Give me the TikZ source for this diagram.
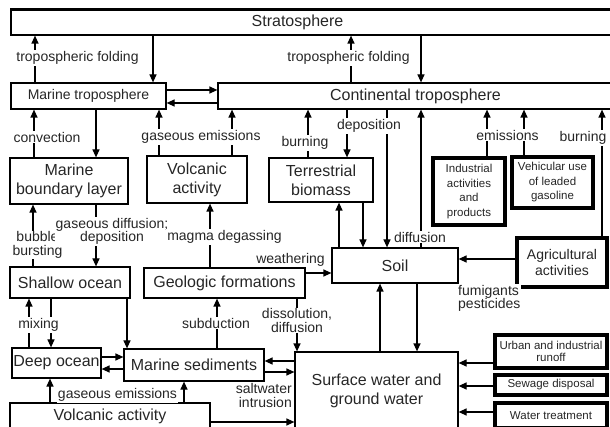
\documentclass[tikz,border=0pt]{standalone}
\usepackage{fontspec}
\setmainfont{Liberation Sans}
\usetikzlibrary{arrows.meta}

\newcommand{\boxfont}{\fontsize{16}{19}\selectfont}
\newcommand{\midfont}{\fontsize{14}{16}\selectfont}
\newcommand{\lblfont}{\fontsize{14}{13.5}\selectfont}
\newcommand{\srcfont}{\fontsize{11.5}{14.5}\selectfont}

\tikzset{
	box/.style={draw, line width=1.2pt, inner sep=0pt, align=center, font=\boxfont, text=black!85},
	srcbox/.style={box, line width=3.5pt, font=\srcfont},
	lbl/.style={fill=white, inner sep=1pt, align=center, font=\lblfont, text=black!85},
	arr/.style={-{Triangle[length=8pt,width=7pt]}, line width=1.2pt},
}

\begin{document}
\begin{tikzpicture}[x=1pt, y=-1pt]

			\useasboundingbox (0,0) rectangle (610,427);
			\clip (0,0) rectangle (610,427);

			% compartments
			\node[box, minimum width=629pt, minimum height=25pt] (strat) at (325.5,22.5) {};
			\node[font=\boxfont, text=black!85] (strattxt) at (297.5,22.5) {Stratosphere};
			\draw[line width=2.2pt] (strat.north west) -- (strat.north east);
			\node[box, font=\midfont, minimum width=155pt, minimum height=26pt] (mtrop) at (88.5,96) {Marine troposphere};
			\node[box, minimum width=422pt, minimum height=26pt] (ctrop) at (429,96) {};
			\node[font=\boxfont, text=black!85] (ctroptxt) at (415.5,96) {Continental troposphere};
			\node[box, minimum width=118pt, minimum height=46pt] (mbl) at (69,181) {Marine\\boundary layer};
			\node[box, minimum width=100pt, minimum height=47pt] (volcup) at (197,179.5) {Volcanic\\activity};
			\node[box, minimum width=104pt, minimum height=44pt] (biomass) at (321,180) {Terrestrial\\biomass};
			\node[box, minimum width=126pt, minimum height=35pt] (soil) at (395,265.5) {Soil};
			\node[box, minimum width=120pt, minimum height=31pt] (shallow) at (70,282.5) {Shallow ocean};
			\node[box, minimum width=161pt, minimum height=30pt] (geo) at (224.5,283) {Geologic formations};
			\node[box, minimum width=89pt, minimum height=30pt] (deep) at (56.5,363) {Deep ocean};
			\node[box, minimum width=140pt, minimum height=32pt] (msed) at (194,365) {Marine sediments};
			\node[box, minimum width=163pt, minimum height=78pt] (water) at (376.5,391) {Surface water and\\ground water};
			\node[box, minimum width=200pt, minimum height=27pt] (volcdown) at (110,416.5) {Volcanic activity};

			% sources
			\node[srcbox, minimum width=72pt, minimum height=67pt] (industry) at (469,191.5) {Industrial\\activities\\and\\products};
			\node[srcbox, minimum width=81pt, minimum height=51pt] (vehicle) at (552.5,182.5) {Vehicular use\\of leaded\\gasoline};
			\node[srcbox, font=\midfont, minimum width=90pt, minimum height=49pt] (agri) at (562,262.5) {Agricultural\\activities};
			\node[srcbox, font=\fontsize{11.5}{12.5}\selectfont, minimum width=112pt, minimum height=33pt] (runoff) at (551,351.5) {Urban and industrial\\runoff};
			\node[srcbox, minimum width=112pt, minimum height=20pt] (sewage) at (551,385) {Sewage disposal};
			\node[srcbox, minimum width=112pt, minimum height=25pt] (treat) at (551,415.5) {Water treatment};

			% fluxes
			\draw[arr] (mtrop.north -| 35,0) -- (strat.south -| 35,0);
			\draw[arr] (strat.south -| 153,0) -- (mtrop.north -| 153,0);
			\draw[arr] (ctrop.north -| 351,0) -- (strat.south -| 351,0);
			\draw[arr] (strat.south -| 421,0) -- (ctrop.north -| 421,0);
			\draw[arr] (mtrop.east |- 0,90) -- (ctrop.west |- 0,90);
			\draw[arr] (ctrop.west |- 0,103) -- (mtrop.east |- 0,103);
			\draw[arr] (mbl.north -| 34,0) -- (mtrop.south -| 34,0);
			\draw[arr] (mtrop.south -| 96,0) -- (mbl.north -| 96,0);
			\draw[arr] (volcup.north -| 159,0) -- (mtrop.south -| 159,0);
			\draw[arr] (volcup.north -| 232,0) -- (ctrop.south -| 232,0);
			\draw[arr] (biomass.north -| 308,0) -- (ctrop.south -| 308,0);
			\draw[arr] (ctrop.south -| 347,0) -- (biomass.north -| 347,0);
			\draw[arr] (ctrop.south -| 387,0) -- (soil.north -| 387,0);
			\draw[arr] (soil.north -| 421,0) -- (ctrop.south -| 421,0);
			\draw[arr] (industry.north -| 487,0) -- (ctrop.south -| 487,0);
			\draw[arr] (vehicle.north -| 524,0) -- (ctrop.south -| 524,0);
			\draw[arr] (agri.north -| 602,0) -- (ctrop.south -| 602,0);
			\draw[arr] (agri.west |- 0,259) -- (soil.east |- 0,259);
			\draw[arr] (soil.north -| 339,0) -- (biomass.south -| 339,0);
			\draw[arr] (biomass.south -| 363,0) -- (soil.north -| 363,0);
			\draw[arr] (shallow.north -| 33,0) -- (mbl.south -| 33,0);
			\draw[arr] (mbl.south -| 96,0) -- (shallow.north -| 96,0);
			\draw[arr] (geo.north -| 210,0) -- (volcup.south -| 210,0);
			\draw[arr] (geo.east |- 0,273) -- (soil.west |- 0,273);
			\draw[arr] (deep.north -| 29,0) -- (shallow.south -| 29,0);
			\draw[arr] (shallow.south -| 51,0) -- (deep.north -| 51,0);
			\draw[arr] (shallow.south -| 127,0) -- (msed.north -| 127,0);
			\draw[arr] (msed.north -| 217,0) -- (geo.south -| 217,0);
			\draw[arr] (geo.south -| 297,0) -- (water.north -| 297,0);
			\draw[arr] (deep.east |- 0,357) -- (msed.west |- 0,357);
			\draw[arr] (msed.west |- 0,369) -- (deep.east |- 0,369);
			\draw[arr] (water.west |- 0,361) -- (msed.east |- 0,361);
			\draw[arr] (msed.east |- 0,372) -- (water.west |- 0,372);
			\draw[arr] (volcdown.north -| 50,0) -- (deep.south -| 50,0);
			\draw[arr] (volcdown.north -| 184,0) -- (msed.south -| 184,0);
			\draw[arr] (volcdown.east |- 0,422) -- (water.west |- 0,422);
			\draw[arr] (water.north -| 380,0) -- (soil.south -| 380,0);
			\draw[arr] (soil.south -| 417,0) -- (water.north -| 417,0);
			\draw[arr] (runoff.west |- 0,363) -- (water.east |- 0,363);
			\draw[arr] (sewage.west |- 0,386) -- (water.east |- 0,386);
			\draw[arr] (treat.west |- 0,412) -- (water.east |- 0,412);

			% process labels
			\node[lbl] (foldl) at (77.5,58) {tropospheric folding};
			\node[lbl] (foldr) at (348.5,58) {tropospheric folding};
			\node[lbl] (conv) at (47,137) {convection};
			\node[lbl] (gasup) at (201,137) {gaseous emissions};
			\node[lbl] (burnl) at (305,143) {burning};
			\node[lbl] (depo) at (369,126) {deposition};
			\node[lbl] (emis) at (507.5,135) {emissions};
			\node[lbl] (burnr) at (583,138) {burning};
			\node[lbl] (diffu) at (420,237) {diffusion};
			\node[lbl] (bubble) at (37.5,245) {bubble\\bursting};
			\node[lbl] (gasdif) at (112,231.5) {gaseous diffusion;\\deposition};
			\node[lbl] (magma) at (224.5,237) {magma degassing};
			\node[lbl] (weath) at (290.5,259.5) {weathering};
			\node[lbl] (mixing) at (38.5,325) {mixing};
			\node[lbl] (subd) at (216,323) {subduction};
			\node[lbl] (dissol) at (297,320.5) {dissolution,\\diffusion};
			\node[lbl, align=right, anchor=east] (salt) at (293,395.5) {saltwater\\intrusion};
			\node[lbl, align=left, anchor=west] (fumi) at (457,298.5) {fumigants\\pesticides};
			\node[lbl] (gaslow) at (117.5,395) {gaseous emissions};

\end{tikzpicture}
\end{document}
